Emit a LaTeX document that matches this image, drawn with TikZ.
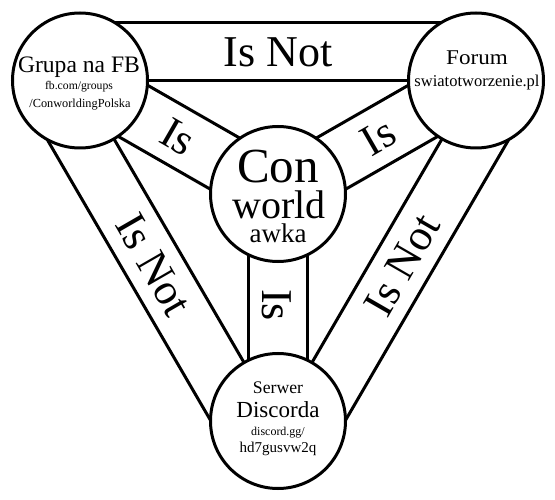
\documentclass[tikz,border=0pt]{standalone}
\usepackage{fontspec}
\setmainfont{Liberation Serif}
\usetikzlibrary{calc}
\newcommand\fsz[1]{\fontsize{#1}{#1}\selectfont}
\tikzset{
  band/.style={draw, fill=white, line width=3pt, line join=miter},
  disc/.style={circle, draw, fill=white, line width=3pt, minimum size=135pt, inner sep=0pt},
  lbl/.style={inner sep=0pt, anchor=base},
  big/.style={inner sep=0pt, font=\fsz{44}},
}
\begin{document}
\begin{tikzpicture}[x=1pt,y=-1pt]
\useasboundingbox (0,0) rectangle (555,500);
\coordinate (pFB) at (80,80.5);
\coordinate (pFO) at (476,80.5);
\coordinate (pDC) at (278,421);
\coordinate (pCW) at (278,194);
% outer bands
\draw[band] (pFB) -- (pFO) -- ($(pFO)!58pt!-90:(pFB)$) -- ($(pFB)!58pt!90:(pFO)$) -- cycle;
\draw[band] (pFO) -- (pDC) -- ($(pDC)!58pt!-90:(pFO)$) -- ($(pFO)!58pt!90:(pDC)$) -- cycle;
\draw[band] (pDC) -- (pFB) -- ($(pFB)!58pt!-90:(pDC)$) -- ($(pDC)!58pt!90:(pFB)$) -- cycle;
% inner bands
\foreach \v in {pFB,pFO,pDC}{
  \draw[band] ($(pCW)!29.5pt!90:(\v)$) -- ($(\v)!29.5pt!-90:(pCW)$) -- ($(\v)!29.5pt!90:(pCW)$) -- ($(pCW)!29.5pt!-90:(\v)$) -- cycle;
}
% circles
\node[disc] (fb) at (pFB) {};
\node[disc] (fo) at (pFO) {};
\node[disc] (dc) at (pDC) {};
\node[disc] (cw) at (pCW) {};
% circle texts
\node[lbl, font=\fsz{23.6}] (t1) at (79,73) {Grupa na FB};
\node[lbl, font=\fsz{11.7}] (t2) at (79,90) {fb.com/groups};
\node[lbl, font=\fsz{12.3}] (t3) at (80,108) {/ConworldingPolska};
\node[lbl, font=\fsz{21}, xscale=1.1] (t4) at (477,65) {Forum};
\node[lbl, font=\fsz{16.5}] (t5) at (477,87) {swiatotworzenie.pl};
\node[lbl, font=\fsz{49}] (t6) at (278,183) {Con};
\node[lbl, font=\fsz{40}] (t7) at (279,219) {world};
\node[lbl, font=\fsz{27}] (t8) at (278,243) {awka};
\node[lbl, font=\fsz{17.7}] (t9) at (278,393) {Serwer};
\node[lbl, font=\fsz{23}] (t10) at (278,417) {Discorda};
\node[lbl, font=\fsz{12}] (t11) at (278,435) {discord.gg/};
\node[lbl, font=\fsz{15}] (t12) at (278,452) {hd7gusvw2q};
% band labels
\node[big] (n1) at (278,52.5) {Is Not};
\node[big, rotate=-60] (n2) at (154,265) {Is Not};
\node[big, rotate=60] (n3) at (402,265) {Is Not};
\node[big, rotate=-30] (i1) at (178,137) {Is};
\node[big, rotate=30] (i2) at (378,137) {Is};
\node[big, rotate=-90] (i3) at (277,305) {Is};
\end{tikzpicture}
\end{document}
